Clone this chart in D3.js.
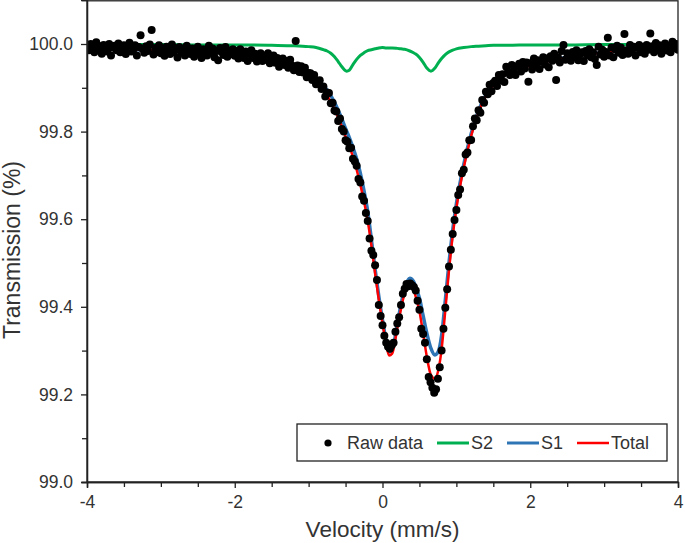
<!DOCTYPE html>
<html><head><meta charset="utf-8">
<script src="https://cdn.jsdelivr.net/npm/d3@7"></script>
<style>
body{margin:0;background:#fff}
svg{display:block}
text{font-family:"Liberation Sans",Arial,sans-serif;fill:#333}
</style>
</head><body>
<svg id="chart" width="685" height="543"></svg>
<script>
// ---- data ----
const rawVelocity = [
-4,-3.975,-3.95,-3.925,-3.9,-3.875,-3.85,-3.825,-3.8,-3.775,
-3.75,-3.725,-3.7,-3.675,-3.65,-3.625,-3.6,-3.575,-3.55,-3.525,
-3.5,-3.475,-3.45,-3.425,-3.4,-3.375,-3.35,-3.325,-3.3,-3.275,
-3.25,-3.225,-3.2,-3.175,-3.15,-3.125,-3.1,-3.075,-3.05,-3.025,
-3,-2.975,-2.95,-2.925,-2.9,-2.875,-2.85,-2.825,-2.8,-2.775,
-2.75,-2.725,-2.7,-2.675,-2.65,-2.625,-2.6,-2.575,-2.55,-2.525,
-2.5,-2.475,-2.45,-2.425,-2.4,-2.375,-2.35,-2.325,-2.3,-2.275,
-2.25,-2.225,-2.2,-2.175,-2.15,-2.125,-2.1,-2.075,-2.05,-2.025,
-2,-1.975,-1.95,-1.925,-1.9,-1.875,-1.85,-1.825,-1.8,-1.775,
-1.75,-1.725,-1.7,-1.675,-1.65,-1.625,-1.6,-1.575,-1.55,-1.525,
-1.5,-1.475,-1.45,-1.425,-1.4,-1.375,-1.35,-1.325,-1.3,-1.275,
-1.25,-1.225,-1.2,-1.175,-1.15,-1.125,-1.1,-1.075,-1.05,-1.025,
-1,-0.975,-0.95,-0.925,-0.9,-0.875,-0.85,-0.825,-0.8,-0.775,
-0.75,-0.725,-0.7,-0.675,-0.65,-0.625,-0.6,-0.575,-0.55,-0.525,
-0.5,-0.475,-0.45,-0.425,-0.4,-0.375,-0.35,-0.325,-0.3,-0.275,
-0.25,-0.225,-0.2,-0.175,-0.15,-0.125,-0.1,-0.075,-0.05,-0.025,
0,0.025,0.05,0.075,0.1,0.125,0.15,0.175,0.2,0.225,
0.25,0.275,0.3,0.325,0.35,0.375,0.4,0.425,0.45,0.475,
0.5,0.525,0.55,0.575,0.6,0.625,0.65,0.675,0.7,0.725,
0.75,0.775,0.8,0.825,0.85,0.875,0.9,0.925,0.95,0.975,
1,1.025,1.05,1.075,1.1,1.125,1.15,1.175,1.2,1.225,
1.25,1.275,1.3,1.325,1.35,1.375,1.4,1.425,1.45,1.475,
1.5,1.525,1.55,1.575,1.6,1.625,1.65,1.675,1.7,1.725,
1.75,1.775,1.8,1.825,1.85,1.875,1.9,1.925,1.95,1.975,
2,2.025,2.05,2.075,2.1,2.125,2.15,2.175,2.2,2.225,
2.25,2.275,2.3,2.325,2.35,2.375,2.4,2.425,2.45,2.475,
2.5,2.525,2.55,2.575,2.6,2.625,2.65,2.675,2.7,2.725,
2.75,2.775,2.8,2.825,2.85,2.875,2.9,2.925,2.95,2.975,
3,3.025,3.05,3.075,3.1,3.125,3.15,3.175,3.2,3.225,
3.25,3.275,3.3,3.325,3.35,3.375,3.4,3.425,3.45,3.475,
3.5,3.525,3.55,3.575,3.6,3.625,3.65,3.675,3.7,3.725,
3.75,3.775,3.8,3.825,3.85,3.875,3.9,3.925,3.95,3.975,
4];

const rawTransmission = [
99.996,99.986,100.000,99.992,99.981,100.004,99.988,99.995,99.978,99.998,
99.990,99.983,100.000,99.974,99.992,99.996,99.986,100.001,99.981,99.988,
99.997,99.977,99.992,100.003,99.983,99.987,99.997,99.974,99.993,100.020,
99.989,99.980,99.995,99.984,99.999,100.032,99.976,99.991,99.982,99.997,
99.979,99.988,99.973,99.994,99.986,99.977,99.999,99.981,99.990,99.969,
99.993,99.981,99.987,99.974,99.996,99.983,99.977,99.990,99.971,99.987,
99.994,99.979,99.968,99.988,99.983,99.974,99.996,99.980,99.990,99.970,
99.984,99.963,99.991,99.981,99.975,99.993,99.971,99.985,99.977,99.988,
99.973,99.984,99.967,99.988,99.978,99.968,99.983,99.961,99.977,99.986,
99.968,99.978,99.960,99.971,99.979,99.961,99.973,99.964,99.979,99.956,
99.969,99.974,99.957,99.968,99.948,99.962,99.967,99.952,99.961,99.946,
99.964,99.951,99.940,100.007,99.951,99.936,99.949,99.935,99.946,99.924,
99.934,99.933,99.918,99.929,99.908,99.914,99.917,99.897,99.903,99.880,
99.889,99.888,99.865,99.866,99.848,99.846,99.824,99.830,99.806,99.800,
99.780,99.777,99.762,99.763,99.738,99.732,99.722,99.692,99.684,99.652,
99.642,99.614,99.596,99.556,99.528,99.518,99.495,99.461,99.404,99.379,
99.358,99.334,99.318,99.309,99.304,99.312,99.318,99.343,99.362,99.376,
99.404,99.430,99.441,99.452,99.447,99.453,99.449,99.445,99.437,99.414,
99.393,99.350,99.338,99.318,99.280,99.240,99.228,99.215,99.204,99.212,
99.236,99.262,99.300,99.350,99.398,99.440,99.492,99.530,99.566,99.598,
99.621,99.655,99.668,99.705,99.713,99.748,99.752,99.780,99.781,99.812,
99.830,99.826,99.849,99.843,99.872,99.866,99.891,99.885,99.907,99.892,
99.911,99.916,99.904,99.929,99.917,99.931,99.913,99.948,99.937,99.929,
99.952,99.938,99.929,99.949,99.955,99.937,99.959,99.944,99.958,99.914,
99.956,99.942,99.967,99.951,99.963,99.943,99.960,99.970,99.953,99.967,
99.947,99.972,99.962,99.978,99.918,99.970,99.958,99.984,99.998,99.964,
99.979,99.975,99.962,99.982,99.970,99.986,99.963,99.976,99.981,99.961,
99.984,99.975,99.988,99.970,99.981,99.966,99.952,99.994,99.976,99.987,
99.971,99.982,100.014,99.974,99.992,99.970,99.988,99.996,99.980,99.992,
99.975,100.023,99.986,99.978,99.998,99.982,99.994,99.974,99.991,99.998,
99.981,99.993,99.978,99.998,99.987,100.024,99.995,99.981,100.002,99.986,
99.997,99.978,99.994,100.001,99.985,99.996,99.981,100.005,99.991,100.000,
99.987];

const curveVelocity = [-4,-3.5,-3,-2.5,-2,-1.5,-1.2,-1,-0.9,-0.8,-0.75,-0.7,-0.65,-0.6,-0.55,-0.5,
-0.485,-0.45,-0.4,-0.35,-0.3,-0.25,-0.2,-0.15,-0.1,-0.05,0,0.05,0.09,0.13,0.2,0.25,0.3,0.37,0.42,0.45,
0.5,0.55,0.6,0.656,0.71,0.76,0.8,0.85,0.9,0.95,1,1.1,1.2,1.3,1.4,1.5,1.7,2,2.5,3,3.5,4];

const s2Values = [99.999,99.999,99.999,99.998,99.998,99.997,99.996,99.994,99.992,99.987,99.984,99.979,99.971,99.960,99.948,99.939,
99.938,99.940,99.953,99.965,99.974,99.980,99.985,99.987,99.989,99.991,99.992,99.991,99.991,99.991,99.990,99.989,99.988,99.984,99.980,99.977,
99.969,99.958,99.945,99.938,99.945,99.958,99.967,99.976,99.982,99.986,99.989,99.992,99.994,99.995,99.996,99.997,99.997,99.998,99.998,99.999,99.999,99.999];

const s1Values = [99.990,99.988,99.986,99.983,99.978,99.967,99.953,99.935,99.922,99.905,99.895,99.882,99.867,99.849,99.829,99.807,
99.801,99.787,99.764,99.738,99.705,99.665,99.618,99.553,99.486,99.424,99.370,99.322,99.297,99.301,99.360,99.405,99.442,99.465,99.458,99.445,
99.420,99.380,99.340,99.305,99.290,99.300,99.335,99.415,99.500,99.575,99.635,99.725,99.795,99.848,99.884,99.908,99.935,99.952,99.970,99.981,99.988,99.992];

const totalValues = [99.990,99.988,99.986,99.982,99.977,99.965,99.950,99.930,99.914,99.894,99.882,99.868,99.851,99.832,99.811,99.789,
99.783,99.768,99.742,99.713,99.679,99.640,99.596,99.540,99.476,99.416,99.363,99.314,99.289,99.293,99.351,99.395,99.431,99.450,99.439,99.423,
99.390,99.339,99.286,99.244,99.236,99.259,99.303,99.392,99.483,99.562,99.625,99.718,99.790,99.844,99.881,99.906,99.933,99.951,99.969,99.981,99.988,99.992];

const xMajorTicks = [-4,-2,0,2,4];
const xMinorTicks = [-3.5,-3,-2.5,-1.5,-1,-0.5,0.5,1,1.5,2.5,3,3.5];
const yMajorTicks = [99.0,99.2,99.4,99.6,99.8,100.0];
const yMinorTicks = [99.1,99.3,99.5,99.7,99.9];
const legendItems = ["Raw data","S2","S1","Total"];

// ---- drawing ----
const svg = d3.select("#chart");
const x = d3.scaleLinear().domain([-4,4]).range([87,678]);
const y = d3.scaleLinear().domain([99.0,100.1]).range([482,0.2]);
const colors = {S2:"#00b050", S1:"#2e75b6", Total:"#ff0000"};

svg.append("defs").append("clipPath").attr("id","plot")
  .append("rect").attr("x",87).attr("y",0).attr("width",591).attr("height",482);

const g = svg.append("g").attr("clip-path","url(#plot)");
const line = vals => d3.line().x((d,i)=>x(curveVelocity[i])).y(d=>y(d)).curve(d3.curveMonotoneX)(vals);

g.append("path").attr("d",line(s2Values)).attr("fill","none").attr("stroke",colors.S2).attr("stroke-width",3);
g.append("path").attr("d",line(s1Values)).attr("fill","none").attr("stroke",colors.S1).attr("stroke-width",3.5);
g.append("path").attr("d",line(totalValues)).attr("fill","none").attr("stroke",colors.Total).attr("stroke-width",2.5);

g.selectAll("circle.pt").data(rawTransmission).join("circle").attr("class","pt")
  .attr("cx",(d,i)=>x(rawVelocity[i])).attr("cy",d=>y(d)).attr("r",4).attr("fill","#000");

// frame
svg.append("rect").attr("x",87).attr("y",0.8).attr("width",591).attr("height",481.2)
  .attr("fill","none").attr("stroke","#222").attr("stroke-width",1.3);

// axes
const axisStyle = sel => { sel.select(".domain").attr("stroke","#222").attr("stroke-width",1.3);
  sel.selectAll(".tick line").attr("stroke","#222").attr("stroke-width",1.3);
  sel.selectAll("text").attr("font-size","17.5px").attr("fill","#333").attr("font-family","Liberation Sans, Arial, sans-serif"); };

svg.append("g").attr("transform","translate(0,482)")
  .call(d3.axisBottom(x).tickValues(xMinorTicks).tickSize(5).tickFormat("")).call(axisStyle);
svg.append("g").attr("transform","translate(0,482)")
  .call(d3.axisBottom(x).tickValues(xMajorTicks).tickSize(6).tickPadding(8).tickFormat(d=>String(d))).call(axisStyle);
svg.append("g").attr("transform","translate(87,0)")
  .call(d3.axisLeft(y).tickValues(yMinorTicks).tickSize(5).tickFormat("")).call(axisStyle);
svg.append("g").attr("transform","translate(87,0)")
  .call(d3.axisLeft(y).tickValues(yMajorTicks).tickSize(6).tickPadding(8).tickFormat(d3.format(".1f"))).call(axisStyle);

// axis titles
svg.append("text").attr("x",382.5).attr("y",537).attr("text-anchor","middle")
  .attr("font-size","22.5px").text("Velocity (mm/s)");
svg.append("text").attr("transform","translate(20,250) rotate(-90)").attr("text-anchor","middle")
  .attr("font-size","23px").text("Transmission (%)");

// legend
const lg = svg.append("g");
lg.append("rect").attr("x",297).attr("y",424).attr("width",370).attr("height",37)
  .attr("fill","#fff").attr("stroke","#222").attr("stroke-width",1.3);
const ly = 443;
lg.append("circle").attr("cx",328).attr("cy",ly).attr("r",3.6).attr("fill","#000");
lg.append("text").attr("x",347).attr("y",ly+6).attr("font-size","18px").text(legendItems[0]);
[["S2",437],["S1",507],["Total",577]].forEach(([k,x0],j)=>{
  lg.append("line").attr("x1",x0).attr("x2",x0+32).attr("y1",ly).attr("y2",ly)
    .attr("stroke",colors[k]).attr("stroke-width",k==="Total"?2.5:3);
  lg.append("text").attr("x",x0+34).attr("y",ly+6).attr("font-size","18px").text(legendItems[j+1]);
});
</script>
</body></html>
